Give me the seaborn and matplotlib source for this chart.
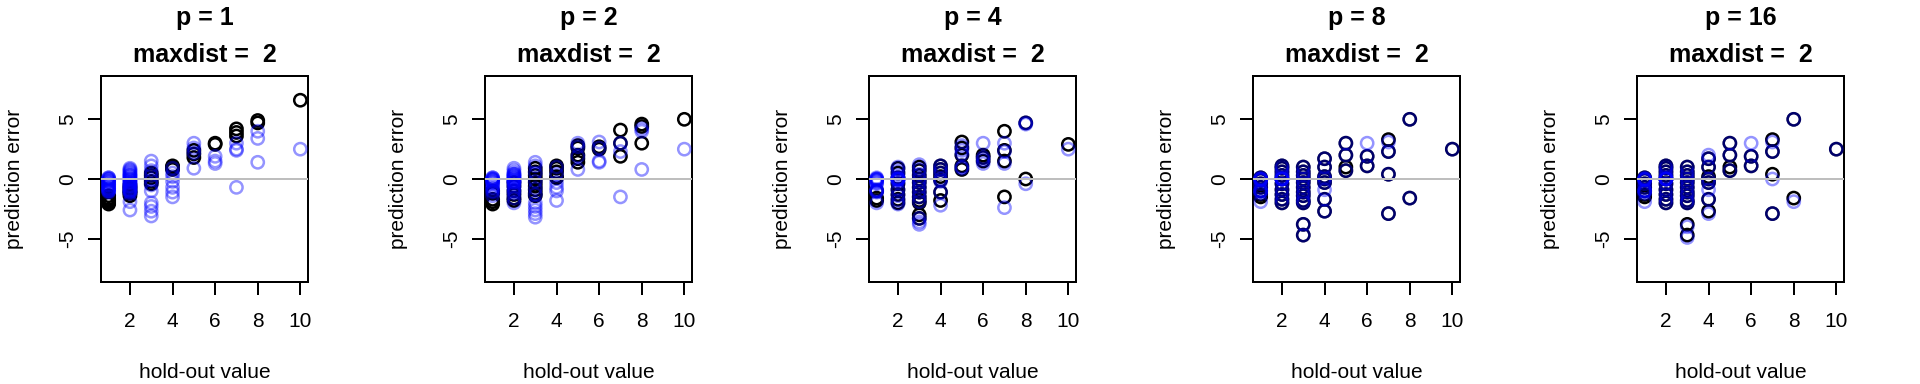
import matplotlib
matplotlib.use("Agg")
import matplotlib.pyplot as plt
import seaborn as sns
import pandas as pd

# ---------------- data ----------------
PANEL_P = [1, 2, 4, 8, 16]
MAXDIST = 2
X_TICKS = [2, 4, 6, 8, 10]
Y_TICKS = [-5, 0, 5]

# prediction errors by hold-out value; black = first method, blue = second method
P1_BLACK = {1: [-1.4, -1.6, -1.7, -1.8, -1.9, -2.0, -2.1],
            2: [-0.5, -0.7, -0.8, -1.0, -1.1, -1.2, -1.4],
            3: [0.5, 0.3, 0.1, -0.2, -0.4],
            4: [1.1, 1.0, 0.9, 0.8],
            5: [2.4, 2.1, 1.8],
            6: [3.0, 2.9],
            7: [4.2, 3.9, 3.6],
            8: [4.9, 4.7],
            10: [6.6]}
P1_BLUE = {1: [0.1, 0.1, 0.0, 0.0, -0.1, -0.2, -0.2, -0.3, -0.4, -0.5, -0.5, -0.6, -0.7,
               -0.8, -0.8, -0.9, -1.0, -1.0, -1.1],
           2: [0.9, 0.8, 0.7, 0.6, 0.5, 0.4, 0.3, 0.3, 0.2, 0.1, 0.0, 0.0, -0.1, -0.2,
               -0.3, -0.3, -0.4, -0.5, -0.6, -0.6, -0.7, -0.8, -0.9, -1.0, -1.0, -1.1,
               -1.2, -1.9, -2.6],
           3: [1.5, 1.1, 0.7, 0.3, -0.1, -0.5, -1.0, -2.0, -2.3, -2.7, -3.1],
           4: [0.9, 0.5, 0.2, -0.2, -0.7, -1.1, -1.5],
           5: [3.0, 2.6, 2.2, 0.9],
           6: [1.9, 1.5, 1.3],
           7: [3.0, 2.5, 2.4, -0.7],
           8: [4.0, 3.4, 1.4],
           10: [2.5]}

P2_BLACK = {1: [-1.0, -1.2, -1.7, -1.9, -2.1],
            2: [-0.3, -0.6, -1.0, -1.3, -1.6, -1.8],
            3: [0.9, 0.6, 0.3, 0.0, -0.3, -0.6, -0.9, -1.2, -1.4],
            4: [1.1, 0.9, 0.6, 0.2, 0.1],
            5: [2.8, 2.6, 2.0, 1.7, 1.4],
            6: [2.7, 2.5],
            7: [4.1, 3.0, 1.9],
            8: [4.6, 4.4, 3.0],
            10: [5.0]}
P2_BLUE = {1: [0.1, 0.1, 0.0, 0.0, -0.1, -0.1, -0.2, -0.3, -0.3, -0.5, -0.7, -0.8,
               -1.0, -1.1, -1.4],
           2: [0.9, 0.7, 0.5, 0.4, 0.4, 0.3, 0.2, 0.2, 0.1, 0.0, 0.0, -0.1, -0.2,
               -0.2, -0.3, -0.4, -0.6, -0.8, -1.0, -1.2, -1.6, -2.0],
           3: [1.4, 1.1, 0.5, -0.2, -0.8, -1.3, -2.0, -2.3, -2.6, -2.9, -3.2],
           4: [1.0, 0.4, -0.3, -0.7, -1.0, -1.8],
           5: [3.0, 2.7, 1.9, 0.8],
           6: [3.1, 2.6, 1.5, 1.4],
           7: [3.0, 2.3, -1.5],
           8: [4.2, 4.0, 0.8],
           10: [2.5]}

P4_BLACK = {1: [-1.0, -1.6, -1.8],
            2: [0.9, 0.5, 0.1, -0.4, -0.9, -1.3, -1.7, -2.0],
            3: [1.0, 0.7, 0.3, 0.0, -0.3, -0.7, -1.1, -1.5, -1.8, -2.0, -3.0, -3.3],
            4: [1.1, 0.8, 0.5, 0.2, -0.1, -1.1, -1.8],
            5: [3.1, 2.6, 2.0, 1.1, 0.8],
            6: [2.0, 1.8, 1.5],
            7: [4.0, 2.4, 1.5, -1.5],
            8: [4.7, 0.0],
            10: [2.9]}
P4_BLUE = {1: [0.1, 0.0, 0.0, 0.0, -0.1, -0.1, -0.2, -0.3, -0.4, -0.9, -1.0, -1.0,
               -1.1, -2.0],
           2: [1.0, 0.7, 0.3, 0.1, 0.0, 0.0, 0.0, 0.0, 0.0, -0.1, -0.1, -0.3, -0.9,
               -1.4, -1.8, -2.1],
           3: [1.2, 0.8, 0.4, 0.0, -0.3, -0.7, -1.1, -1.5, -1.9, -3.3, -3.6, -3.8],
           4: [1.1, 0.8, 0.5, 0.0, -0.2, -1.1, -2.2],
           5: [2.8, 2.4, 2.1, 1.0, 0.9],
           6: [3.0, 1.8, 1.6, 1.3],
           7: [3.0, 2.3, 1.3, -2.4],
           8: [4.7, 4.6, -0.4],
           10: [2.5]}

P8_BLACK = {1: [0.1, -0.1, -0.4, -0.7, -1.0, -1.3, -1.5],
            2: [1.1, 0.9, 0.6, 0.3, 0.0, -0.4, -0.9, -1.3, -1.7, -2.0],
            3: [1.0, 0.6, 0.3, 0.0, -0.3, -0.7, -1.1, -1.4, -1.8, -2.0, -3.8, -4.7],
            4: [1.7, 1.0, 0.2, 0.0, -0.3, -1.7, -2.7],
            5: [3.0, 2.0, 1.0, 0.7],
            6: [1.9, 1.1],
            7: [3.3, 2.3, 0.4, -2.9],
            8: [5.0, -1.6],
            10: [2.5]}
P8_BLUE = {1: [0.1, 0.0, 0.0, 0.0, -0.1, -0.1, -0.4, -0.7, -1.0, -1.0, -1.0, -1.2, -1.9],
           2: [1.1, 0.9, 0.6, 0.3, 0.0, 0.0, 0.0, 0.0, 0.0, 0.1, -0.4, -0.9, -1.3,
               -1.7, -2.0],
           3: [1.0, 0.6, 0.3, 0.0, -0.3, -0.7, -1.1, -1.4, -1.8, -2.0, -3.8, -4.7],
           4: [1.7, 1.0, 0.2, 0.0, -0.3, -0.9, -1.7, -2.7],
           5: [3.0, 2.0, 0.7],
           6: [3.0, 1.9, 1.1],
           7: [3.1, 2.3, 0.4, -2.9],
           8: [5.0, -1.6],
           10: [2.5]}

P16_BLACK = {1: [0.1, -0.1, -0.4, -0.7, -1.0, -1.3, -1.5],
             2: [1.1, 0.9, 0.6, 0.3, 0.0, -0.4, -0.9, -1.3, -1.7, -2.0],
             3: [1.0, 0.6, 0.3, 0.0, -0.3, -0.7, -1.1, -1.4, -1.8, -2.0, -3.8, -4.7],
             4: [1.7, 1.0, 0.2, 0.0, -0.3, -1.7, -2.7],
             5: [3.0, 2.0, 1.0, 0.7],
             6: [1.9, 1.1],
             7: [3.3, 2.3, 0.4, -2.9],
             8: [5.0, -1.6],
             10: [2.5]}
P16_BLUE = {1: [0.1, 0.0, 0.0, 0.0, -0.1, -0.1, -0.4, -0.7, -1.0, -1.0, -1.0, -1.2, -1.9],
            2: [1.1, 0.9, 0.6, 0.3, 0.0, 0.0, 0.0, 0.0, 0.0, 0.1, -0.4, -0.9, -1.3,
                -1.7, -2.0],
            3: [1.0, 0.6, 0.3, 0.0, -0.3, -0.7, -1.1, -1.4, -1.8, -2.0, -4.0, -4.9],
            4: [2.0, 1.7, 1.0, 0.0, -0.3, -0.9, -1.7, -2.9],
            5: [3.0, 2.0, 0.7],
            6: [3.0, 1.9, 1.1],
            7: [3.1, 2.3, 0.0, -2.9],
            8: [5.0, -1.9],
            10: [2.5]}

BLACK_SERIES = [P1_BLACK, P2_BLACK, P4_BLACK, P8_BLACK, P16_BLACK]
BLUE_SERIES = [P1_BLUE, P2_BLUE, P4_BLUE, P8_BLUE, P16_BLUE]


def to_frame(d):
    rows = [(x, e) for x, errs in d.items() for e in errs]
    return pd.DataFrame(rows, columns=["holdout", "error"])


# ---------------- style ----------------
sns.set_style("ticks")
plt.rcParams["font.family"] = ["Liberation Sans", "DejaVu Sans"]
plt.rcParams["text.color"] = "black"
plt.rcParams["axes.labelcolor"] = "black"
plt.rcParams["xtick.color"] = "black"
plt.rcParams["ytick.color"] = "black"

PX = 0.72  # points per pixel at dpi 100
BLUE_RGBA = (0, 0, 1, 0.42)
MARKER_S = 78
MARKER_LW = 2.5 * PX
fig = plt.figure(figsize=(19.2, 3.84), dpi=100)

for i, p in enumerate(PANEL_P):
    left = (i * 384 + 101) / 1920
    ax = fig.add_axes([left, 102 / 384, 207 / 1920, 206 / 384])

    black = to_frame(BLACK_SERIES[i])
    blue = to_frame(BLUE_SERIES[i])

    sns.scatterplot(data=black, x="holdout", y="error", ax=ax, marker="o",
                    s=MARKER_S, color="black", facecolor="none", edgecolor="black",
                    linewidth=MARKER_LW, zorder=2, legend=False)
    sns.scatterplot(data=blue, x="holdout", y="error", ax=ax, marker="o",
                    s=MARKER_S, color=BLUE_RGBA, facecolor="none",
                    edgecolor=BLUE_RGBA,
                    linewidth=MARKER_LW, zorder=3, legend=False)
    ax.axhline(0, color="#BEBEBE", lw=2 * PX, zorder=4)

    ax.set_xlim(0.64, 10.36)
    ax.set_ylim(-8.63, 8.63)
    ax.set_xticks(X_TICKS)
    ax.set_yticks(Y_TICKS)
    ax.set_xticklabels([str(t) for t in X_TICKS])
    ax.set_yticklabels([str(t) for t in Y_TICKS])

    for sp in ax.spines.values():
        sp.set_visible(True)
        sp.set_linewidth(2 * PX)
        sp.set_color("black")

    ax.tick_params(axis="both", direction="out", length=13 * PX, width=2 * PX,
                   labelsize=15, color="black", labelcolor="black")
    ax.tick_params(axis="x", pad=12)
    ax.tick_params(axis="y", pad=8, labelrotation=90)
    for lbl in ax.get_yticklabels():
        lbl.set_verticalalignment("center")

    ax.set_xlabel("hold-out value", fontsize=15, va="center", color="black")
    ax.set_ylabel("prediction error", fontsize=15, va="center", color="black")
    ax.xaxis.set_label_coords(0.5, -(372 - 282) / 206)
    ax.yaxis.set_label_coords((15 - 101) / 207, 0.5)

    ax.set_title(f"p = {p}\nmaxdist =  {MAXDIST}", fontsize=18,
                 fontweight="bold", pad=10, linespacing=1.7, color="black")

fig.savefig("out.png", dpi=100)
